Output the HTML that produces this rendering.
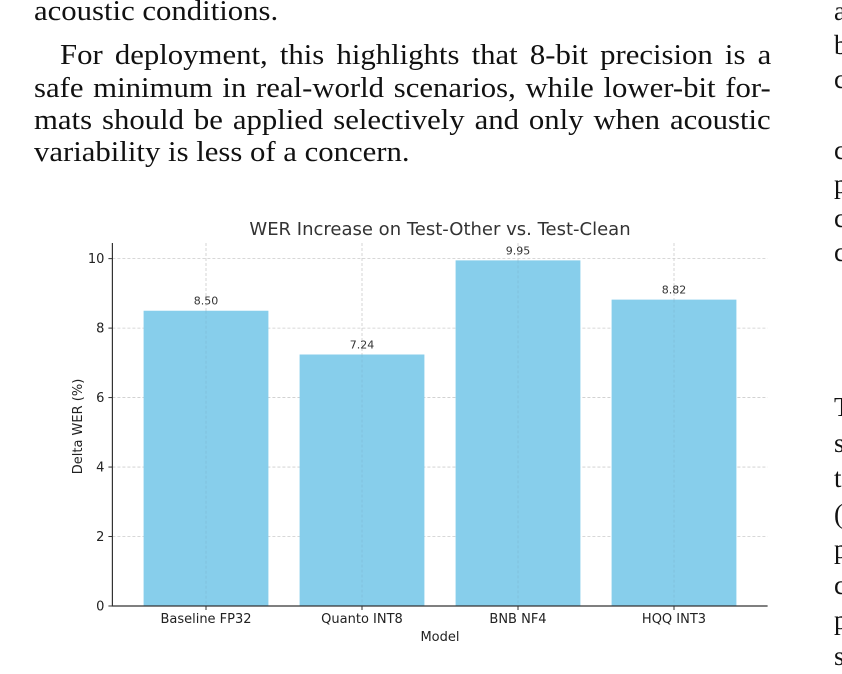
<!DOCTYPE html>
<html><head><meta charset="utf-8"><style>
body{margin:0;background:#fff;width:842px;height:674px;overflow:hidden;position:relative}
.p{position:absolute;font-family:"Liberation Serif",serif;font-size:29px;color:#111;white-space:nowrap;line-height:32px;transform:scaleX(1.06);transform-origin:0 0}
.j{white-space:normal;text-align:justify;text-align-last:justify}
.r{position:absolute;font-family:"Liberation Serif",serif;font-size:27px;color:#111;line-height:34px;left:834px}
</style></head><body>
<div class="p" style="left:34px;top:-5px">acoustic conditions.</div>
<div class="p j" style="left:60px;top:39px;width:671px">For deployment, this highlights that 8-bit precision is a</div>
<div class="p j" style="left:34px;top:72px;width:695px">safe minimum in real-world scenarios, while lower-bit for-</div>
<div class="p j" style="left:34px;top:104px;width:695px">mats should be applied selectively and only when acoustic</div>
<div class="p" style="left:34px;top:136px">variability is less of a concern.</div>
<div class="r" style="top:-6px;line-height:34px">a<br>b<br>c</div>
<div class="r" style="top:133px;line-height:34px">c<br>p<br>c<br>c</div>
<div class="r" style="top:390px;line-height:35.5px">T<br>s<br>t<br>(<br>p<br>c<br>p<br>s</div>
<svg id="chart" width="842" height="674" style="position:absolute;left:0;top:0" font-family="DejaVu Sans, Liberation Sans, sans-serif"></svg>
<script>
const categories=["Baseline FP32","Quanto INT8","BNB NF4","HQQ INT3"];
const values=[8.50,7.24,9.95,8.82];
const yTicks=[0,2,4,6,8,10];
const svg=document.getElementById('chart');
const NS='http://www.w3.org/2000/svg';
const L=112.4,R=767.6,B=606,T=243,yMax=10.45;
const x=i=>206+i*156;
const y=v=>B-(B-T)*v/yMax;
function mk(t,a,txt){const e=document.createElementNS(NS,t);for(const k in a)e.setAttribute(k,a[k]);if(txt!=null)e.textContent=txt;svg.appendChild(e);return e;}
yTicks.forEach(v=>{
 const g=mk('line',{x1:L,x2:R,y1:y(v),y2:y(v),stroke:'#ccc','stroke-width':0.8,'stroke-dasharray':'3,2'});
 
 
});
categories.forEach((c,i)=>{
 const g=mk('line',{x1:x(i),x2:x(i),y1:T,y2:B,stroke:'#ccc','stroke-width':0.8,'stroke-dasharray':'3,2'});
 
 
});
categories.forEach((c,i)=>{
 const r=mk('rect',{x:x(i)-62.4,y:y(values[i]),width:124.8,height:B-y(values[i]),fill:'#87ceeb'});
 
 
 const vl=mk('line',{x1:x(i),x2:x(i),y1:y(values[i]),y2:B,stroke:'#7fb8d4','stroke-width':0.6,'stroke-dasharray':'3,2'});
 
 
 const t=mk('text',{x:x(i),y:y(values[i])-6,'text-anchor':'middle','font-size':11,fill:'#333'},values[i].toFixed(2));
 
 
 const tk=mk('line',{x1:x(i),x2:x(i),y1:B,y2:B+4,stroke:'#333'});
 
 
 const tl=mk('text',{x:x(i),y:B+17,'text-anchor':'middle','font-size':13,fill:'#222'},c);
 
 
});
yTicks.forEach(v=>{
 const tk=mk('line',{x1:L-4,x2:L,y1:y(v),y2:y(v),stroke:'#333'});
 
 
 const tl=mk('text',{x:L-8,y:y(v)+4.5,'text-anchor':'end','font-size':13,fill:'#222'},v);
 
 
});
const ax=mk('path',{d:`M${L} ${T}V${B}H${R}`,fill:'none',stroke:'#333','stroke-width':1.2});


const ti=mk('text',{x:440,y:235,'text-anchor':'middle','font-size':18,fill:'#333'},'WER Increase on Test-Other vs. Test-Clean');


const xt=mk('text',{x:440,y:641,'text-anchor':'middle','font-size':13,fill:'#222'},'Model');


const yt=mk('text',{x:0,y:0,'text-anchor':'middle','font-size':13,fill:'#222',transform:`translate(82,${(T+B)/2+2}) rotate(-90)`},'Delta WER (%)');


</script>
</body></html>
